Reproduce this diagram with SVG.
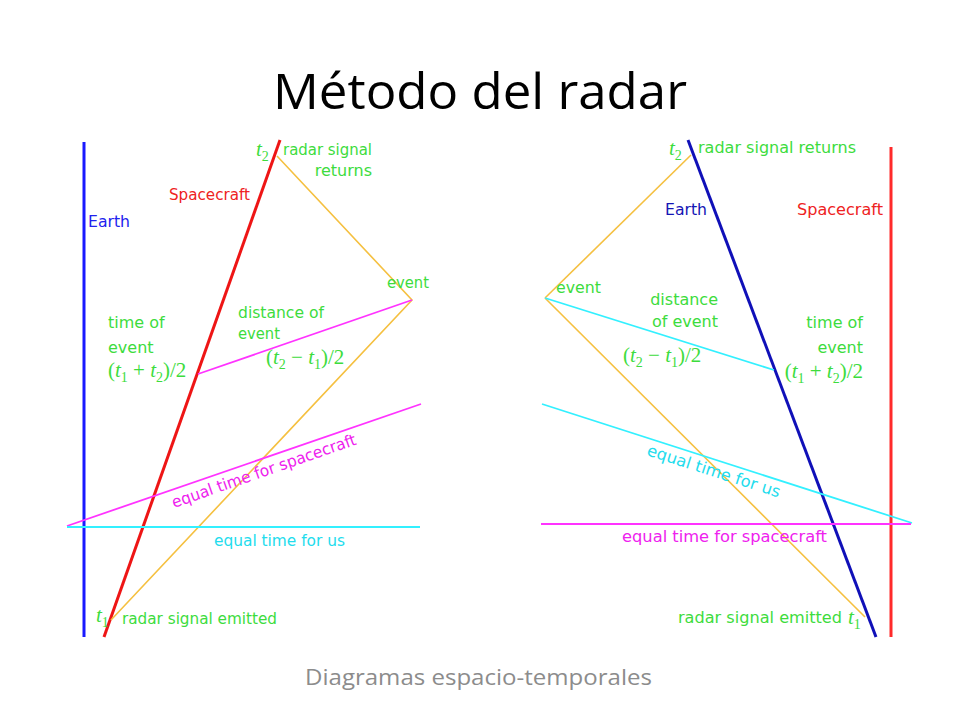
<svg xmlns="http://www.w3.org/2000/svg" width="960" height="720" viewBox="0 0 960 720">
<style>
.lbl{font-family:"DejaVu Sans","Liberation Sans",sans-serif;font-size:16px;}
.g{fill:#3ddc3d;}
.math{font-family:"Liberation Serif","DejaVu Serif",serif;font-size:21px;fill:#3ddc3d;}
.it{font-style:italic;}
.sub{font-size:14px;}
.wl{fill:none;stroke-width:3;}
.ray{fill:none;stroke:#f5c040;stroke-width:1.6;}
.mag{fill:none;stroke:#ff33ff;stroke-width:1.8;}
.cy{fill:none;stroke:#33f0ff;stroke-width:1.8;}
</style>
<rect width="960" height="720" fill="#ffffff"/>
<g id="title">
<text x="273" y="109" font-family="'Open Sans','Liberation Sans',sans-serif" font-size="50" fill="#000" textLength="414" lengthAdjust="spacingAndGlyphs">Método del radar</text>
</g>
<g id="subtitle">
<text x="305" y="685" font-family="'Open Sans','Liberation Sans',sans-serif" font-size="22" fill="#8c8c8c" textLength="347" lengthAdjust="spacingAndGlyphs">Diagramas espacio-temporales</text>
</g>

<g id="connectors">
<line class="wl" x1="84" y1="142" x2="84" y2="637" stroke="#1a1aff"/>
<line class="wl" x1="104" y1="637" x2="280" y2="140" stroke="#ee1515"/>
<polyline class="ray" points="111,620 412,300 277,156"/>
<line class="mag" x1="198" y1="374" x2="412" y2="300"/>
<line class="mag" x1="67" y1="526" x2="421" y2="404"/>
<line class="cy" x1="67" y1="527" x2="420" y2="527"/>

<line class="wl" x1="891" y1="147" x2="891" y2="637" stroke="#ff2a2a"/>
<line class="wl" x1="688" y1="140" x2="876" y2="637" stroke="#1010b8"/>
<line class="ray" x1="545" y1="298" x2="691" y2="155"/>
<line class="ray" x1="545" y1="298" x2="865" y2="617" stroke="#f5dc78" stroke-width="1.3"/>
<line class="cy" x1="545" y1="298" x2="774" y2="370"/>
<line class="cy" x1="542" y1="404" x2="912" y2="523"/>
<line class="mag" x1="541" y1="524" x2="911" y2="524"/>
</g>

<g id="left-labels">
<text class="lbl" x="88" y="227" fill="#2222ee" textLength="42" lengthAdjust="spacingAndGlyphs">Earth</text>
<text class="lbl" x="169" y="200" fill="#ee2222" textLength="81" lengthAdjust="spacingAndGlyphs">Spacecraft</text>
<text class="math" x="256" y="156"><tspan class="it">t</tspan><tspan class="sub" dy="5">2</tspan></text>
<text class="lbl g" x="283" y="155" textLength="89" lengthAdjust="spacingAndGlyphs">radar signal</text>
<text class="lbl g" x="372" y="176" text-anchor="end">returns</text>
<text class="lbl g" x="387" y="288" textLength="42" lengthAdjust="spacingAndGlyphs">event</text>
<text class="lbl g" x="238" y="318" textLength="86" lengthAdjust="spacingAndGlyphs">distance of</text>
<text class="lbl g" x="238" y="339" textLength="42" lengthAdjust="spacingAndGlyphs">event</text>
<text class="math" x="266" y="364">(<tspan class="it">t</tspan><tspan class="sub" dy="5">2</tspan><tspan dy="-5"> − </tspan><tspan class="it">t</tspan><tspan class="sub" dy="5">1</tspan><tspan dy="-5">)/2</tspan></text>
<text class="lbl g" x="108" y="328">time of</text>
<text class="lbl g" x="108" y="353">event</text>
<text class="math" x="108" y="377">(<tspan class="it">t</tspan><tspan class="sub" dy="5">1</tspan><tspan dy="-5"> + </tspan><tspan class="it">t</tspan><tspan class="sub" dy="5">2</tspan><tspan dy="-5">)/2</tspan></text>
<text class="lbl" x="0" y="0" fill="#ee22ee" transform="translate(174,508) rotate(-19.2)" textLength="194" lengthAdjust="spacingAndGlyphs">equal time for spacecraft</text>
<text class="lbl" x="214" y="546" fill="#22dced" textLength="131" lengthAdjust="spacingAndGlyphs">equal time for us</text>
<text class="math" x="96" y="622"><tspan class="it">t</tspan><tspan class="sub" dy="5">1</tspan></text>
<text class="lbl g" x="122" y="624" textLength="155" lengthAdjust="spacingAndGlyphs">radar signal emitted</text>
</g>

<g id="right-labels">
<text class="math" x="669" y="155"><tspan class="it">t</tspan><tspan class="sub" dy="5">2</tspan></text>
<text class="lbl g" x="698" y="153" textLength="158" lengthAdjust="spacingAndGlyphs">radar signal returns</text>
<text class="lbl" x="665" y="215" fill="#1515b5" textLength="42" lengthAdjust="spacingAndGlyphs">Earth</text>
<text class="lbl" x="797" y="215" fill="#ee2222" textLength="86" lengthAdjust="spacingAndGlyphs">Spacecraft</text>
<text class="lbl g" x="556" y="293" textLength="45" lengthAdjust="spacingAndGlyphs">event</text>
<text class="lbl g" x="718" y="305" text-anchor="end">distance</text>
<text class="lbl g" x="718" y="327" text-anchor="end">of event</text>
<text class="math" x="623" y="362">(<tspan class="it">t</tspan><tspan class="sub" dy="5">2</tspan><tspan dy="-5"> − </tspan><tspan class="it">t</tspan><tspan class="sub" dy="5">1</tspan><tspan dy="-5">)/2</tspan></text>
<text class="lbl g" x="863" y="328" text-anchor="end">time of</text>
<text class="lbl g" x="863" y="353" text-anchor="end">event</text>
<text class="math" x="863" y="378" text-anchor="end">(<tspan class="it">t</tspan><tspan class="sub" dy="5">1</tspan><tspan dy="-5"> + </tspan><tspan class="it">t</tspan><tspan class="sub" dy="5">2</tspan><tspan dy="-5">)/2</tspan></text>
<text class="lbl" x="0" y="0" fill="#22dced" transform="translate(646,455) rotate(17.8)" textLength="139" lengthAdjust="spacingAndGlyphs">equal time for us</text>
<text class="lbl" x="622" y="542" fill="#ee22ee" textLength="205" lengthAdjust="spacingAndGlyphs">equal time for spacecraft</text>
<text class="lbl g" x="678" y="623" textLength="164" lengthAdjust="spacingAndGlyphs">radar signal emitted</text>
<text class="math" x="848" y="624"><tspan class="it">t</tspan><tspan class="sub" dy="5">1</tspan></text>
</g>
</svg>
